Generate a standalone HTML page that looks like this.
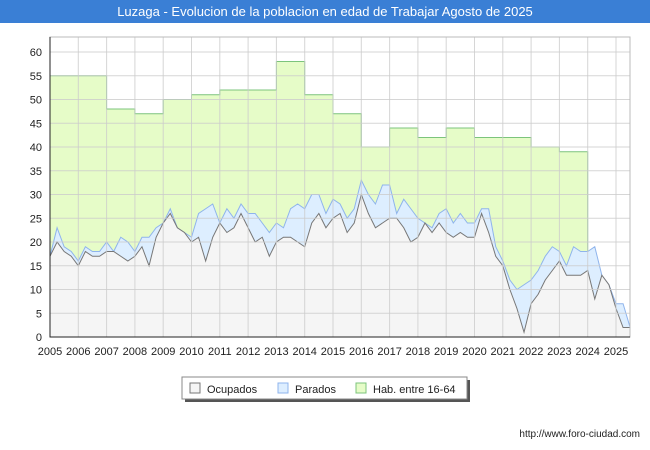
<!DOCTYPE html>
<html><head><meta charset="utf-8"><style>
body{margin:0;width:650px;height:450px;background:#fff;font-family:"Liberation Sans",sans-serif;overflow:hidden}
#title{position:absolute;left:0;top:0;width:650px;height:23px;background:#3a7fd5;color:#fff;font-size:13px;line-height:23px;text-align:center}
</style></head><body>
<div id="title">Luzaga - Evolucion de la poblacion en edad de Trabajar Agosto de 2025</div>
<svg id="chart" width="650" height="450" style="position:absolute;left:0;top:0"></svg>
<script>
const years=[2005,2006,2007,2008,2009,2010,2011,2012,2013,2014,2015,2016,2017,2018,2019,2020,2021,2022,2023,2024,2025];
const habValues=[55,55,48,47,50,51,52,52,58,51,47,40,44,42,44,42,42,40,39];
const ocupados=[17,20,18,17,15,18,17,17,18,18,17,16,17,19,15,21,24,26,23,22,20,21,16,21,24,22,23,26,23,20,21,17,20,21,21,20,19,24,26,23,25,26,22,24,30,26,23,24,25,25,23,20,21,24,22,24,22,21,22,21,21,26,22,17,15,10,6,1,7,9,12,14,16,13,13,13,14,8,13,11,6,2,2];
const parados=[0,3,1,1,1,1,1,1,2,0,4,4,1,2,6,2,0,1,0,0,1,5,11,7,0,5,2,2,3,6,3,5,4,2,6,8,8,6,4,3,4,2,3,3,3,4,5,8,7,1,6,7,4,0,1,2,5,3,4,3,3,1,5,2,1,2,4,10,5,5,5,5,2,2,6,5,4,11,-1,-4,1,5,0];
const yTicks=[0,5,10,15,20,25,30,35,40,45,50,55,60];
const NS='http://www.w3.org/2000/svg',svg=document.getElementById('chart');
const X=t=>50+(t-2005)*28.3, Y=v=>337-v*4.75;
function el(tag,a,p){const e=document.createElementNS(NS,tag);for(const k in a)e.setAttribute(k,a[k]);(p||svg).appendChild(e);return e;}
el('rect',{x:50,y:37,width:580,height:300,fill:'#fff'});
let hp='M'+X(2005)+','+Y(0);
habValues.forEach((v,i)=>{hp+=' L'+X(2005+i)+','+Y(v)+' L'+X(2006+i)+','+Y(v);});
hp+=' L'+X(2024)+','+Y(0)+'Z';
const hab=el('path',{d:hp,fill:'#e6fcc8',stroke:'#7cc47c','stroke-width':1});

const tq=i=>2005+i/4;
let pp='M'+X(tq(0))+','+Y(0),pl='',op='M'+X(tq(0))+','+Y(0),ol='';
ocupados.forEach((o,i)=>{const tot=o+Math.max(parados[i],0);pp+=' L'+X(tq(i))+','+Y(tot);pl+=(i?' L':'M')+X(tq(i))+','+Y(tot);op+=' L'+X(tq(i))+','+Y(o);ol+=(i?' L':'M')+X(tq(i))+','+Y(o);});
const last=X(tq(ocupados.length-1));
const pa=el('path',{d:pp+' L'+last+','+Y(0)+'Z',fill:'#ddeeff'});
el('path',{d:pl,fill:'none',stroke:'#8fb4ec','stroke-width':1});
const oa=el('path',{d:op+' L'+last+','+Y(0)+'Z',fill:'#f5f5f5'});
el('path',{d:ol,fill:'none',stroke:'#777','stroke-width':1});
yTicks.forEach(v=>{el('line',{x1:50,x2:630,y1:Y(v),y2:Y(v),stroke:'#ccc','stroke-width':1,opacity:0.8});const t=el('text',{x:42,y:Y(v)+4,'text-anchor':'end','font-size':11,fill:'#222'});t.textContent=v;});
years.forEach(y=>{el('line',{x1:X(y),x2:X(y),y1:37,y2:337,stroke:'#ccc','stroke-width':1,opacity:0.8});const t=el('text',{x:X(y),y:355,'text-anchor':'middle','font-size':11,fill:'#222'});t.textContent=y;});
el('rect',{x:50,y:37,width:580,height:300,fill:'none',stroke:'#bbb','stroke-width':1});
el('path',{d:'M50,37 L50,337 L630,337',fill:'none',stroke:'#222','stroke-width':1});
const lg=el('g',{});
el('rect',{x:185,y:380,width:285,height:22,fill:'#555'},lg);
el('rect',{x:182,y:377,width:285,height:22,fill:'#fff',stroke:'#888'},lg);
[['Ocupados','#f5f5f5','#777',190],['Parados','#ddeeff','#8fb4ec',278],['Hab. entre 16-64','#e6fcc8','#7cc47c',356]].forEach(([n,f,s,x])=>{el('rect',{x:x,y:383,width:10,height:10,fill:f,stroke:s},lg);const t=el('text',{x:x+17,y:393,'font-size':11,fill:'#222'},lg);t.textContent=n;});
const f=el('text',{x:640,y:437,'text-anchor':'end','font-size':10,fill:'#222'});f.textContent='http://www.foro-ciudad.com';
</script>
</body></html>
